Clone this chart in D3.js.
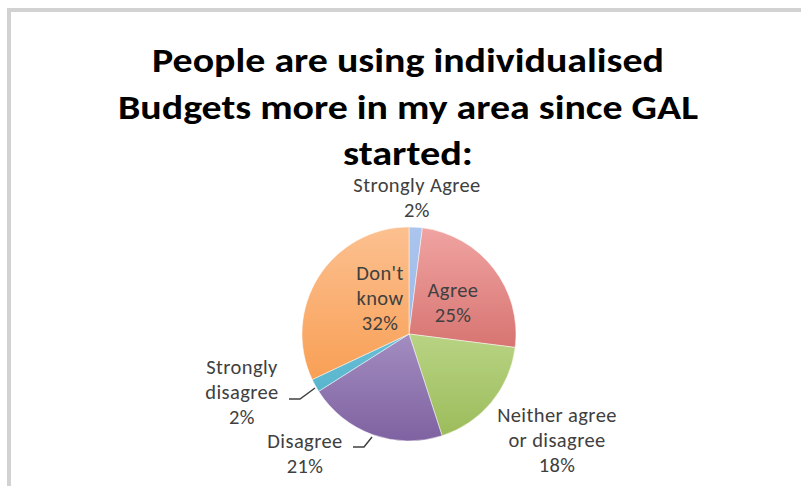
<!DOCTYPE html>
<html>
<head>
<meta charset="utf-8">
<script src="https://cdn.jsdelivr.net/npm/d3@7"></script>
<style>
  html, body { margin: 0; padding: 0; background: #fff; }
  svg { display: block; }
</style>
</head>
<body>
<svg id="chart" width="801" height="486"></svg>
<script>
// Survey responses, clockwise from 12 o'clock
const categories = ["Strongly Agree", "Agree", "Neither agree or disagree", "Disagree", "Strongly disagree", "Don't know"];
const values = [2, 25, 18, 21, 2, 32];
// How each category label wraps on the chart
const labelLines = [
  ["Strongly Agree"],
  ["Agree"],
  ["Neither agree", "or disagree"],
  ["Disagree"],
  ["Strongly", "disagree"],
  ["Don't", "know"]
];
const titleLines = ["People are using individualised", "Budgets more in my area since GAL", "started:"];

// Slice fills: [light top, dark bottom]
const fills = [
  ["#abc5ee", "#8aaadc"],
  ["#f0a4a2", "#c4504c"],
  ["#d5ecae", "#9bbb59"],
  ["#c6b8e0", "#7f62a1"],
  ["#86d2e6", "#4bacc6"],
  ["#fcc090", "#f7923e"]
];
// Label anchors relative to the pie centre (first line's centre)
const labelLayout = [
  { dx: 8, dy: -149, leader: null },
  { dx: 44, dy: -44, leader: null },
  { dx: 148, dy: 81, leader: null },
  { dx: -104, dy: 107, leader: [[-56, 113], [-45, 113], [-37, 103]] },
  { dx: -167, dy: 33, leader: [[-120, 65], [-109, 65], [-94, 54]] },
  { dx: -29, dy: -61, leader: null }
];

const svg = d3.select("#chart");
const defs = svg.append("defs");

// Chart frame
svg.append("rect")
  .attr("x", 9).attr("y", 10).attr("width", 820).attr("height", 500)
  .attr("fill", "#fff").attr("stroke", "#d2d2d2").attr("stroke-width", 4);

// Title
const title = svg.append("text")
  .attr("text-anchor", "middle")
  .attr("font-family", "Carlito, Calibri, 'Open Sans', sans-serif")
  .attr("font-weight", "bold")
  .attr("font-size", 34)
  .attr("fill", "#000");
const titleWidths = [512, 580, 130];
titleLines.forEach((t, i) => {
  title.append("tspan")
    .attr("x", 408).attr("y", 72 + i * 46.5)
    .attr("textLength", titleWidths[i])
    .attr("lengthAdjust", "spacingAndGlyphs")
    .text(t);
});

// Pie
const cx = 409, cy = 334, r = 107;
const pie = d3.pie().sort(null).value(d => d)(values);
const arc = d3.arc().innerRadius(0).outerRadius(r);

fills.forEach((f, i) => {
  const g = defs.append("linearGradient")
    .attr("id", "grad" + i)
    .attr("gradientUnits", "userSpaceOnUse")
    .attr("x1", 0).attr("y1", -r).attr("x2", 0).attr("y2", r);
  g.append("stop").attr("offset", "0%").attr("stop-color", f[0]);
  g.append("stop").attr("offset", "100%").attr("stop-color", f[1]);
});

const pieG = svg.append("g").attr("transform", `translate(${cx},${cy})`);
pieG.selectAll("path")
  .data(pie)
  .join("path")
  .attr("d", arc)
  .attr("fill", (d, i) => `url(#grad${i})`)
  .attr("stroke", "#ffffff")
  .attr("stroke-opacity", 0.6)
  .attr("stroke-width", 0.8);

// Data labels
const labelG = svg.append("g").attr("transform", `translate(${cx},${cy})`)
  .attr("font-family", "Carlito, Calibri, 'Open Sans', sans-serif")
  .attr("font-size", 20.5)
  .attr("letter-spacing", 0.4)
  .attr("fill", "#404040");

pie.forEach((d, i) => {
  const L = labelLayout[i];
  const lines = labelLines[i].concat([Math.round(values[i]) + "%"]);
  const t = labelG.append("text").attr("text-anchor", "middle");
  lines.forEach((s, j) => {
    t.append("tspan")
      .attr("x", L.dx)
      .attr("y", L.dy + j * 25)
      .attr("dy", "0.35em")
      .text(s);
  });
  if (L.leader) {
    labelG.append("path")
      .attr("d", d3.line()(L.leader))
      .attr("fill", "none")
      .attr("stroke", "#404040")
      .attr("stroke-width", 1.5);
  }
});
</script>
</body>
</html>
